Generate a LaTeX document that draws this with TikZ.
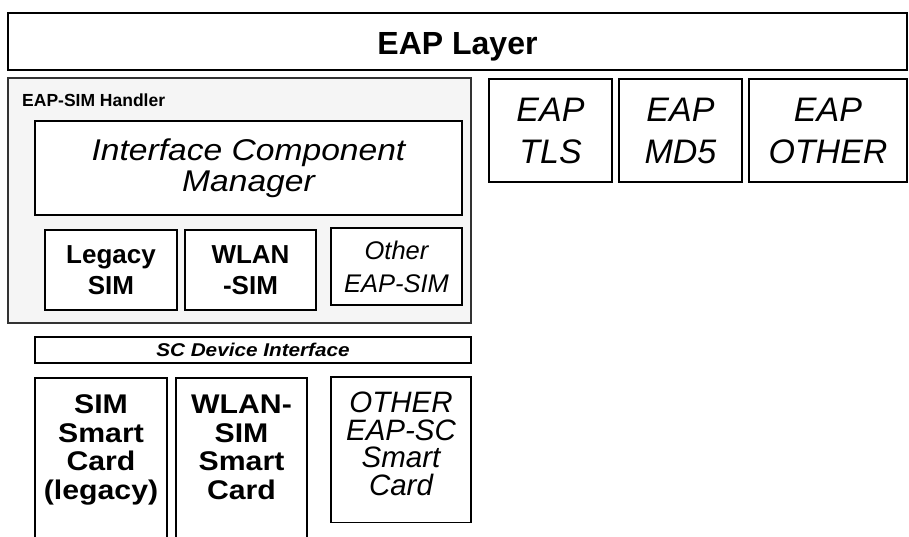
\documentclass[tikz,border=0pt]{standalone}
\usepackage{fontspec}
\setmainfont{Liberation Sans}
\newfontfamily\widefont{Liberation Sans}[FakeStretch=1.12]
\usetikzlibrary{positioning}
\tikzset{
    block/.style={rectangle, draw, line width=1.4pt, fill=white, align=center, inner sep=0pt, outer sep=0pt, anchor=north west},
    handler/.style={block, fill=black!4, draw=black!80},
    eapmethod/.style={block, minimum width=123pt, minimum height=103pt, font=\itshape\fontsize{34}{42}\selectfont},
    simtype/.style={block, minimum width=131pt, minimum height=80pt, font=\bfseries\fontsize{26}{31}\selectfont},
    smartcard/.style={block, inner xsep=0pt, inner ysep=17pt, text depth=200pt, font=\widefont\bfseries\fontsize{27}{28.5}\selectfont}
}
\begin{document}
\begin{tikzpicture}[x=1pt, y=-1pt]
    \useasboundingbox (0,0) rectangle (909,537);
    \clip (0,0) rectangle (909,537);

    % top layer
    \node (layer) [block, minimum width=899pt, minimum height=57pt, text height=27pt, text depth=0pt, font=\bfseries\fontsize{32}{38}\selectfont] at (8,13) {EAP Layer};

    % EAP-SIM handler
    \node (handler) [handler, minimum width=463pt, minimum height=245pt] at (8,78) {};
    \node (handlerlbl) [anchor=base west, inner sep=0pt, font=\bfseries\fontsize{17.5}{21}\selectfont] at (22,107) {EAP-SIM Handler};
    \node (icm) [block, minimum width=427pt, minimum height=94pt, font=\widefont\itshape\fontsize{30}{30.5}\selectfont] at (35,121) {Interface Component\\Manager};
    \node (legacy) [simtype, minimum width=132pt] at (45,230) {Legacy\\SIM};
    \node (wlan) [simtype, right=8pt of legacy] {WLAN\\-SIM};
    \node (othersim) [simtype, minimum height=77pt, font=\itshape\fontsize{25.5}{33}\selectfont] at (331,228) {Other\\EAP-SIM};

    % other EAP methods
    \node (tls) [eapmethod] at (489,79) {EAP\\TLS};
    \node (md5) [eapmethod, right=7pt of tls] {EAP\\MD5};
    \node (other) [eapmethod, minimum width=158pt, right=7pt of md5] {EAP\\OTHER};

    % smart card side
    \node (scdev) [block, minimum width=436pt, minimum height=26pt, font=\widefont\bfseries\itshape\fontsize{18.5}{22}\selectfont] at (35,337) {SC Device Interface};
    \node (simcard) [smartcard, minimum width=132pt] at (35,378) {SIM\\Smart\\Card\\(legacy)};
    \node (wlancard) [smartcard, minimum width=131pt] at (176,378) {WLAN-\\SIM\\Smart\\Card};
    \node (othercard) [block, minimum width=140pt, inner xsep=0pt, inner ysep=15pt, text depth=12.5pt, font=\itshape\fontsize{29.5}{27.5}\selectfont] at (331,377) {OTHER\\EAP-SC\\Smart\\Card};
\end{tikzpicture}
\end{document}
